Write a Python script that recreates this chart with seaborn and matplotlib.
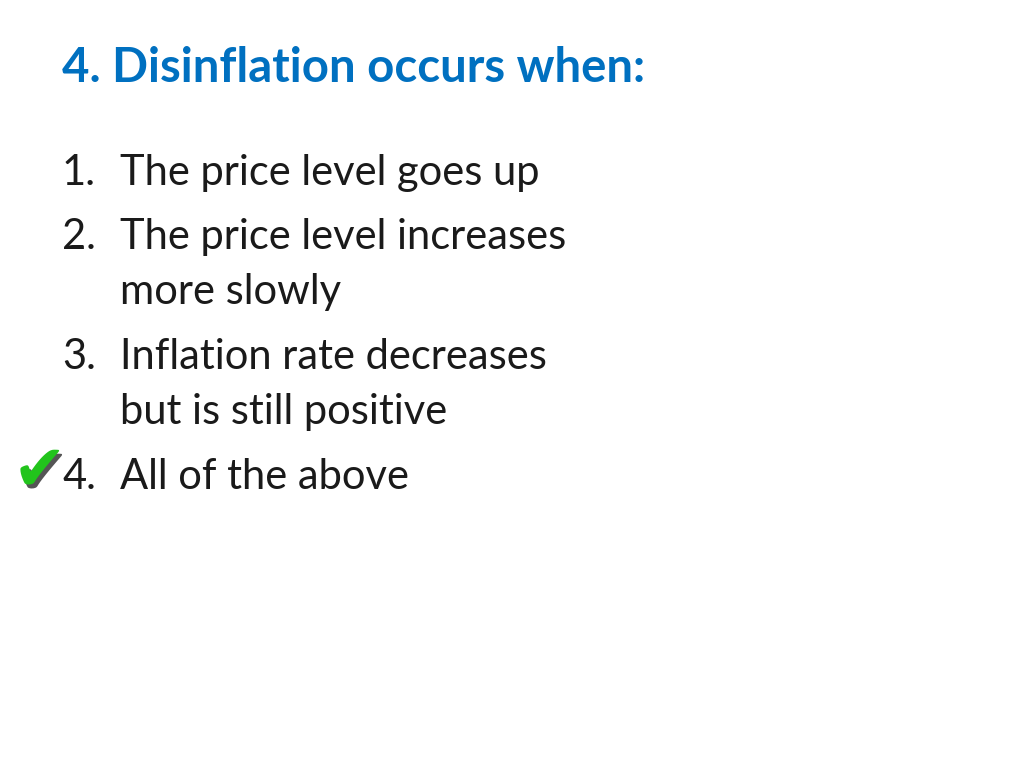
import matplotlib
matplotlib.use("Agg")
import matplotlib.pyplot as plt
import seaborn as sns

sns.set_theme(style="white")
plt.rcParams['font.family'] = ['Lato', 'DejaVu Sans']

title = "4. Disinflation occurs when:"
numbers = ["1.", "2.", "", "3.", "", "4."]
lines = ["The price level goes up",
         "The price level increases",
         "more slowly",
         "Inflation rate decreases",
         "but is still positive",
         "All of the above"]
baselines = [185, 249, 304, 369, 424, 489]  # pixel rows (from top)

fig = plt.figure(figsize=(10.24, 7.68), dpi=100)
ax = fig.add_axes([0, 0, 1, 1])
ax.set_xlim(0, 1024)
ax.set_ylim(768, 0)
ax.axis("off")

ax.text(62, 82, title, fontsize=34, fontweight="bold", color="#0070C0",
        va="baseline", ha="left")

for num, line, y in zip(numbers, lines, baselines):
    if num:
        ax.text(62, y, num, fontsize=30, color="#1a1a1a", va="baseline")
    ax.text(120, y, line, fontsize=30, color="#1a1a1a", va="baseline")

# green check mark next to the correct answer
ax.text(42, 493, "\u2714", fontsize=46, color="#555555", ha="center",
        va="baseline", family="DejaVu Sans")
ax.text(39, 490, "\u2714", fontsize=46, color="#22C41C", ha="center",
        va="baseline", family="DejaVu Sans")

fig.savefig("out.png", dpi=100)
